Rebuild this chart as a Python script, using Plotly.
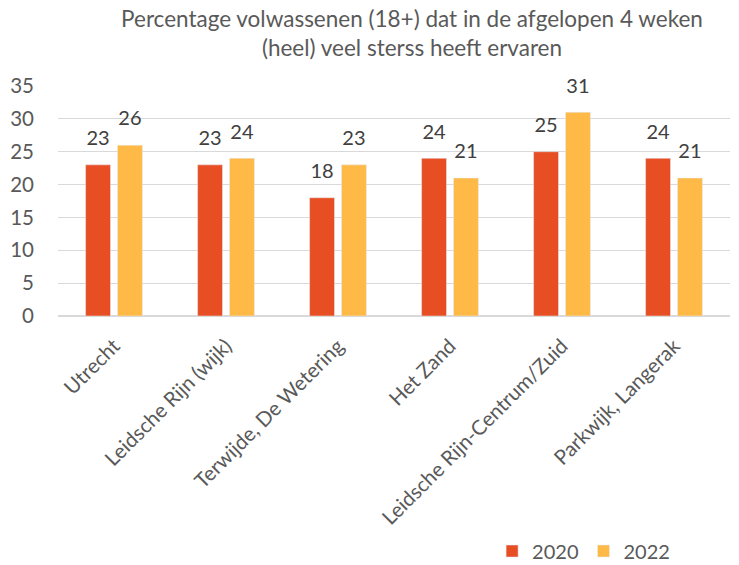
import plotly.graph_objects as go

categories = ["Utrecht", "Leidsche Rijn (wijk)", "Terwijde, De Wetering", "Het Zand",
              "Leidsche Rijn-Centrum/Zuid", "Parkwijk, Langerak"]
values_2020 = [23, 23, 18, 24, 25, 24]
values_2022 = [26, 24, 23, 21, 31, 21]
y_ticks = [0, 5, 10, 15, 20, 25, 30, 35]
series = [("2020", values_2020, "#E84E23"), ("2022", values_2022, "#FFB946")]

FONT = "Lato"
TXT = "#595959"

fig = go.Figure()
for name, vals, col in series:
    fig.add_trace(go.Bar(name=name, x=categories, y=vals, marker_color=col,
                         offsetgroup=name, alignmentgroup="a"))
for name, vals, col in series:
    fig.add_trace(go.Scatter(x=categories, y=vals, mode="markers+text", text=vals,
                             textposition="top center", offsetgroup=name, alignmentgroup="a",
                             marker=dict(size=22, opacity=0), showlegend=False,
                             hoverinfo="skip", cliponaxis=False,
                             textfont=dict(size=20, color="#404040", family=FONT)))

fig.update_layout(
    width=739, height=565,
    margin=dict(l=58, r=9, t=86, b=249, autoexpand=False),
    paper_bgcolor="white", plot_bgcolor="white",
    font=dict(family=FONT, color=TXT, size=17),
    title=dict(text="Percentage volwassenen (18+) dat in de afgelopen 4 weken<br>(heel) veel sterss heeft ervaren",
               x=412/739, xanchor="center", y=1 - 27/565, yanchor="top",
               font=dict(size=22.5, color=TXT, family=FONT)),
    barmode="group", bargap=0.43, bargroupgap=0.22,
    scattermode="group", scattergap=0.43,
    showlegend=True,
    legend=dict(orientation="h", x=0.646, xanchor="left", y=-1.022, yanchor="middle",
                font=dict(size=20, color=TXT, family=FONT), itemwidth=30,
                traceorder="normal"),
)
fig.update_yaxes(range=[0, 35], tickvals=y_ticks, showgrid=True, gridcolor="#D9D9D9",
                 gridwidth=1, zeroline=True, zerolinecolor="#D9D9D9", showline=False,
                 tickfont=dict(size=20.5, color=TXT), ticks="", ticklabelstandoff=23)
fig.update_xaxes(tickangle=-45, tickfont=dict(size=20.5, color=TXT), showline=True,
                 linecolor="#D9D9D9", ticks="", ticklabelstandoff=9)

fig.write_html("out.html", config={"displayModeBar": False},
               post_script="document.body.style.margin='0px';")
